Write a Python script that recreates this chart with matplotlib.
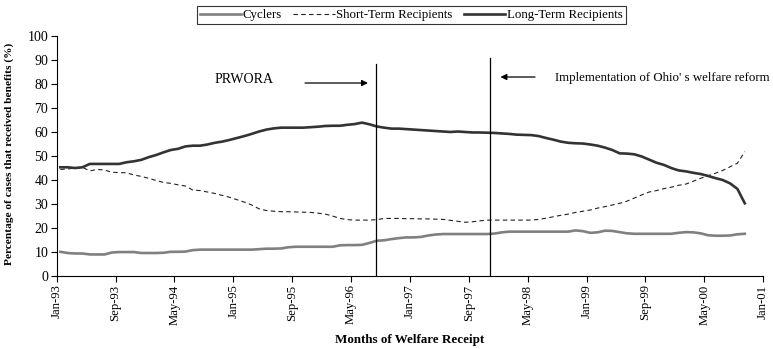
import numpy as np
import matplotlib
matplotlib.use("Agg")
import matplotlib.pyplot as plt

plt.rcParams['font.family'] = ['Liberation Serif', 'DejaVu Serif']

dpi = 100

# monthly values, Jan-93 .. Oct-00
cyclers = [10.1, 9.6, 9.4, 9.4, 9.0, 9.0, 9.0, 9.8, 10.0, 10.0,
           10.0, 9.6, 9.6, 9.6, 9.7, 10.1, 10.1, 10.2, 10.8, 11.0,
           11.0, 11.0, 11.0, 11.0, 11.0, 11.0, 11.0, 11.2, 11.4, 11.4,
           11.5, 12.0, 12.2, 12.2, 12.2, 12.2, 12.2, 12.2, 12.8, 12.9,
           12.9, 13.0, 13.8, 14.7, 14.9, 15.4, 15.8, 16.1, 16.1, 16.3,
           16.9, 17.3, 17.5, 17.5, 17.5, 17.5, 17.5, 17.5, 17.5, 17.7,
           18.2, 18.5, 18.5, 18.5, 18.5, 18.5, 18.5, 18.5, 18.5, 18.5,
           19.0, 18.7, 18.0, 18.2, 18.9, 18.8, 18.3, 17.8, 17.6, 17.6,
           17.6, 17.6, 17.6, 17.6, 18.0, 18.3, 18.2, 17.8, 17.0, 16.8,
           16.8, 16.9, 17.4, 17.6]

short_term = [44.4, 44.6, 45.0, 45.3, 43.8, 44.4, 44.2, 43.2, 43.1, 43.0,
              42.1, 41.5, 40.7, 39.8, 39.0, 38.6, 38.0, 37.5, 35.8, 35.6,
              35.0, 34.4, 33.6, 32.8, 31.8, 30.8, 29.6, 28.0, 27.3, 27.0,
              26.8, 26.8, 26.7, 26.6, 26.5, 26.2, 25.8, 25.0, 24.0, 23.5,
              23.3, 23.3, 23.3, 23.5, 24.0, 24.0, 24.0, 23.9, 23.9, 23.8,
              23.8, 23.7, 23.6, 23.2, 22.8, 22.4, 22.6, 23.0, 23.3, 23.3,
              23.3, 23.3, 23.3, 23.3, 23.3, 23.6, 24.1, 24.7, 25.3, 25.8,
              26.5, 27.0, 27.5, 28.3, 28.9, 29.6, 30.3, 31.2, 32.5, 33.8,
              35.0, 35.6, 36.4, 37.0, 37.8, 38.3, 39.5, 40.7, 41.8, 42.8,
              44.0, 45.5, 47.0, 51.8]

long_term = [45.3, 45.3, 45.0, 45.3, 46.7, 46.7, 46.7, 46.7, 46.7, 47.4,
             47.8, 48.4, 49.5, 50.4, 51.5, 52.5, 53.0, 54.0, 54.3, 54.3,
             54.8, 55.5, 56.0, 56.7, 57.5, 58.3, 59.2, 60.2, 61.0, 61.5,
             61.8, 61.8, 61.8, 61.8, 62.0, 62.2, 62.5, 62.6, 62.6, 63.0,
             63.3, 63.9, 63.2, 62.3, 61.8, 61.4, 61.4, 61.2, 61.0, 60.8,
             60.6, 60.4, 60.2, 60.0, 60.2, 60.0, 59.8, 59.8, 59.7, 59.6,
             59.4, 59.2, 58.9, 58.8, 58.7, 58.3, 57.5, 56.8, 56.0, 55.5,
             55.3, 55.2, 54.8, 54.3, 53.5, 52.5, 51.1, 51.0, 50.7, 49.8,
             48.5, 47.2, 46.3, 45.0, 44.0, 43.6, 43.0, 42.5, 41.7, 40.8,
             40.0, 38.6, 36.3, 30.3]

tick_labels = ['Jan-93', 'Sep-93', 'May-94', 'Jan-95', 'Sep-95', 'May-96',
               'Jan-97', 'Sep-97', 'May-98', 'Jan-99', 'Sep-99', 'May-00',
               'Jan-01']

prwora_month = 43.4
ohio_month = 58.9

x = np.arange(len(long_term)) + 0.5

fig = plt.figure(figsize=(773/dpi, 349/dpi), dpi=dpi)
ax = fig.add_axes([0.0733, 0.209, 0.914, 0.688])

l1, = ax.plot(x, cyclers, color='#808080', lw=1.9, label='Cyclers')
l2, = ax.plot(x, short_term, color='#222222', lw=0.8, dashes=(4, 3),
              label='Short-Term Recipients')
l3, = ax.plot(x, long_term, color='#333333', lw=1.9,
              label='Long-Term Recipients')

# reform markers
ax.plot([prwora_month, prwora_month], [0, 88.3], color='black', lw=0.9)
ax.plot([ohio_month, ohio_month], [0, 90.8], color='black', lw=0.9)

ax.text(21.5, 81.7, 'PRWORA', fontsize=10, va='center', ha='left')
ax.annotate('', xy=(42.3, 80.4), xytext=(33.75, 80.4),
            arrowprops=dict(arrowstyle='-|>', color='black', lw=0.9,
                            mutation_scale=9, shrinkA=0, shrinkB=0))
ax.annotate('', xy=(60.3, 82.9), xytext=(65.0, 82.9),
            arrowprops=dict(arrowstyle='-|>', color='black', lw=0.9,
                            mutation_scale=9, shrinkA=0, shrinkB=0))
ax.text(67.7, 82.5, "Implementation of Ohio' s welfare reform",
        fontsize=9.3, va='center', ha='left')

ax.set_xlim(0, 96)
ax.set_ylim(0, 100)
ax.set_xticks(np.arange(0, 97, 8))
ax.set_xticklabels(tick_labels, rotation=90, fontsize=9.2)
ax.set_yticks(np.arange(0, 101, 10))
ax.tick_params(axis='y', labelsize=10, length=4, width=0.8, direction='out',
               pad=2)
ax.tick_params(axis='x', length=4, width=0.8, direction='out', pad=2)
for s in ['top', 'right']:
    ax.spines[s].set_visible(False)
for s in ['left', 'bottom']:
    ax.spines[s].set_linewidth(0.8)

ax.set_xlabel('Months of Welfare Receipt', fontsize=9.4, fontweight='bold',
              labelpad=7)
ax.set_ylabel('Percentage of cases that received benefits (%)', fontsize=8.2,
              fontweight='bold')
ax.yaxis.set_label_coords(-0.06, 0.51)

leg = fig.legend(handles=[l1, l2, l3], loc='center', ncol=3,
                 bbox_to_anchor=(0.532, 0.957), fontsize=9.3, frameon=True,
                 fancybox=False, edgecolor='black', handlelength=3.2,
                 handletextpad=0.1, columnspacing=0.9, borderpad=0.25,
                 borderaxespad=0)
leg.get_frame().set_linewidth(0.8)

fig.savefig('out.png', dpi=dpi)
